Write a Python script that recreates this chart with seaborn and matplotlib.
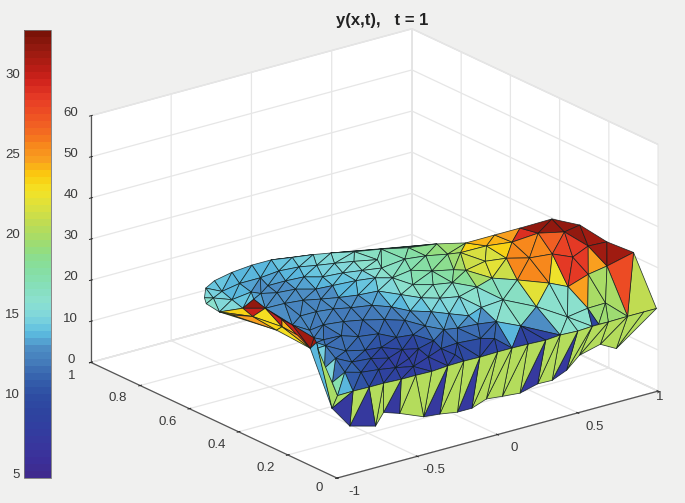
import numpy as np
import matplotlib
matplotlib.use('Agg')
import matplotlib.pyplot as plt
import matplotlib.tri as mtri
from matplotlib import cm, colors as mc
from mpl_toolkits.mplot3d import proj3d
from mpl_toolkits.mplot3d.art3d import Poly3DCollection
import seaborn as sns

node_x = [-0.63,-0.53,-0.43,-0.29,-0.15,-0.03,0.07,0.17,0.25,0.35,0.47,0.58,0.71,0.83,
 -0.49,-0.35,-0.22,-0.09,0.02,0.1,0.18,0.27,0.37,0.48,0.58,0.67,0.72,
 -0.59,-0.52,-0.37,-0.25,-0.14,-0.04,0.03,0.14,0.23,0.32,0.41,0.48,0.57,0.6,
 -0.34,-0.27,-0.17,-0.09,0,0.13,0.22,0.28,0.3,0.38,0.47,0.53,
 -0.33,-0.23,-0.15,-0.07,0.02,0.13,0.18,0.23,0.3,0.39,0.39,
 -0.37,-0.27,-0.18,-0.1,0,0.06,0.1,0.17,0.22,0.28,0.26,
 -0.45,-0.35,-0.24,-0.15,-0.06,0.02,0.04,0.08,0.15,
 -0.47,-0.36,-0.3,-0.19,-0.14,-0.05,-0.03,0.04,0.17,
 -0.47,-0.38,-0.28,-0.21,-0.14,-0.06,
 -0.54,-0.42,-0.34,-0.26,-0.17,-0.05,
 -0.59,-0.48,-0.39,-0.31,
 -0.68,-0.69,-0.56,-0.43,-0.45,-0.48,-0.5,-0.53,-0.52,-0.58,-0.66,
 -0.9,-0.8,-0.71,-0.6,-0.51,-0.41,-0.31,-0.21,-0.11,
 0,0.09,0.19,0.3,0.39,0.5,0.59,0.69,0.81,0.91,0.99,
 -0.92,-0.76,-0.71,-0.61,-0.46,-0.36,-0.25,-0.16,-0.07,0.03,0.14,0.25,0.34,0.43,0.51,0.64,0.74,
 0.63,
 0.79,0.81,0.75,0.83,0.69,0.61,0.73,0.66,0.79,0.86,0.72,0.69,0.74,0.58,0.54,0.39,0.33,0.18,0.65,0.70,0.70,0.78,0.97,0.82,0.78,0.80,0.85,0.81,0.85,0.76,
 -1,-0.63,-0.6,-0.92,-0.74,-0.83,-0.59,-0.66,-0.61,-0.56,-0.5,-0.57]
node_y = [0.78,0.84,0.87,0.89,0.9,0.9,0.88,0.86,0.84,0.81,0.78,0.74,0.71,0.67,
 0.8,0.82,0.82,0.83,0.82,0.8,0.78,0.76,0.73,0.69,0.67,0.64,0.62,
 0.77,0.74,0.76,0.77,0.77,0.76,0.73,0.72,0.7,0.68,0.62,0.58,0.55,0.52,
 0.74,0.72,0.71,0.68,0.67,0.66,0.64,0.61,0.54,0.51,0.49,0.43,
 0.65,0.64,0.62,0.6,0.58,0.57,0.51,0.46,0.43,0.41,0.32,
 0.56,0.56,0.55,0.53,0.51,0.47,0.42,0.38,0.34,0.3,0.25,
 0.47,0.48,0.47,0.45,0.42,0.39,0.32,0.27,0.26,
 0.4,0.4,0.37,0.36,0.32,0.31,0.24,0.19,0.18,
 0.31,0.29,0.29,0.25,0.23,0.19,
 0.24,0.24,0.22,0.19,0.17,0.14,
 0.17,0.17,0.16,0.14,
 0.74,0.68,0.67,0.71,0.65,0.52,0.42,0.39,0.36,0.28,0.19,
 0,0,0,0,0,0,0,0,0,
 0,0,0,0,0,0,0,0,0,0,0,
 0,0,0,0,0,0,0,0,0,0,0,0,0,0,0,0,0,
 0,
 0.56,0.54,0.43,0.45,0.50,0.42,0.44,0.35,0.35,0.34,0.34,0.24,0.26,0.22,0.33,0.16,0.22,0.13,0.14,0.17,0.09,0.07,0.08,0.09,0.14,0.25,0.22,0.16,0.11,0.19,
 0.02,0.35,0.34,0.05,0.22,0.13,0.61,0.65,0.5,0.51,0.55,0.44]
node_z = [18,17.6,17.5,17.5,17.5,17.5,17.6,17.8,17.9,18,18.2,18.5,18.9,19,
 17.5,17.4,17.4,17.4,17.5,17.6,17.8,17.9,18.1,18.2,18.5,18.8,19.2,
 17.8,17.5,17.2,17.2,17.2,17.4,17.5,17.6,17.8,18,18.2,18.4,18.6,19,
 17.1,17.1,17.2,17.2,17.4,17.5,17.8,18,18.1,18.1,18.2,18.2,
 17.1,17.1,17.1,17.2,17.4,17.5,17.8,17.9,17.9,17.9,17.8,
 17,17,17,17,17.1,17.2,17.2,17.4,17.5,17.5,17.1,
 16.9,16.9,16.8,16.8,16.8,16.6,17,17.1,17,
 16.8,16.6,16.6,16.4,16.1,16.1,16.4,16.5,16.5,
 16.6,16.4,16,15.9,15.9,16.2,
 16.6,16.2,16,15.9,15.9,16,
 16.6,16.1,15.9,15.9,
 18.2,18,17.8,17.5,17.2,17.1,17,17,17,16.8,16.8,
 20.1,20,20,19.8,19.8,19.7,20,20.1,20,
 20.1,20.1,20,19.8,20.1,19.9,20.1,20.1,20.2,20.2,20.2,
 11.8,10.1,12.9,11.6,9.2,8.8,8.1,8.1,9.4,9,8.6,9.7,9.6,11.1,13.9,15.2,13.1,
 20.2,
 21.8,24.8,26.8,28.8,20.8,19.8,22.8,20.8,30.8,33.8,25.8,22.8,28.8,18.8,17.8,17.8,17.8,17.8,17.8,23.8,20.8,21.8,31.8,29.8,26.8,33.8,35.8,32.8,34.8,29.8,
 16.4,17.8,17.8,17.8,17.8,17.8,17.8,17.8,17.8,17.8,17.8,17.8]
main_count = 129
main_val = [16,14.5,14,14,14,14,14.5,15,15.5,16,17,18,19.5,20,
 14,13.5,13.5,13.5,14,14.5,15,15.5,16.5,17,18,19,21,
 15,14,13,13,13,13.5,14,14.5,15,16,17,17.5,18.5,20,
 12.5,12.5,13,13,13.5,14,15,16,16.5,16.5,17,17,
 12.5,12.5,12.5,13,13.5,14,15,15.5,15.5,15.5,15,
 12.3,12.3,12.3,12.3,12.5,13,13,13.5,14,14,12.5,
 12,12,11.8,11.5,11.5,11.5,12,12.5,12,
 11.5,11.5,11.3,10.8,10.7,10.7,10.7,10.5,10,
 11,10.5,9,8,8,8.5,
 11,9,8,7.8,7.8,8.3,
 11,8.5,7.8,7.8,
 17,16,15,14,13,12.5,12,12,12,11.5,11,
 10,9.5,9,8,7.8,7.8,8,8.5,9]
chain_low = [0,109,110,111,112,113,114,115,116,117,118,119,120]
chain_right = [13,26,40,52,63,74,92,128]
chain_front = [120,121,122,123,124,125,126,127,128]

right_tri = [[26,13,158],[158,13,159],[159,160,158],[159,161,160],[26,158,162],[26,162,40],[40,162,163],[162,164,163],[158,164,162],[158,160,164],[164,165,163],
 [40,163,52],[160,161,166],[161,167,166],[160,166,168],[160,168,164],[164,168,165],[168,169,165],[168,170,169],[166,170,168],[165,169,171],[163,165,172],
 [163,172,52],[165,171,172],[52,172,63],[172,173,174],[172,171,173],[172,174,63],[63,174,74],[74,174,92],[174,175,92],[174,130,175],[174,173,130],
 [92,175,128],[175,129,128],[175,130,129],[173,131,130],[173,132,131],[173,133,132],[171,133,173],[171,176,133],[171,169,176],[169,177,176],[177,178,176],
 [170,177,169],[176,178,135],[176,135,134],[176,134,133],[178,157,135],[178,179,157],[179,136,157],[179,137,136],[180,139,137],[179,181,137],
 [182,181,179],[182,179,178],[177,182,178],[166,167,183],[167,184,183],[183,184,185],[184,186,185],[185,186,181],[186,180,181],[166,183,170],[183,187,170],
 [183,185,187],[187,185,182],[187,182,177],[170,187,177],[185,181,182],[181,180,137]]
right_val = [23.3,24.2,24,24.5,21.5,21.3,21.5,21.8,21.7,23.3,21,20,29,31.5,25.5,25.7,25.7,25.5,25.5,25.5,22,16.5,16.8,16.5,15.5,16,16.2,15.5,13,11,11,11,13.7,9,9,9,8.5,8.5,8.5,13,16,16,16,16,22.5,16,16,16,9,19.5,19.5,19.5,20.5,20,20,20,24.5,31.5,31.5,31.5,31,31,31,27,28,28.5,28.5,28.5,28.5,24.5,27.5]
wall_tri = [[120,188,140],[120,121,140],[121,140,141],[121,122,141],[122,141,142],[122,123,142],[123,142,143],[123,124,143],[124,143,144],[124,125,144],
 [125,126,144],[126,144,145],[126,127,145],[127,145,146],[127,128,146],[128,146,147],[128,129,147],[129,147,148],[129,130,148],[130,148,149],
 [130,131,149],[131,149,150],[131,132,150],[132,150,151],[132,133,151],[133,151,152],[133,134,152],[134,152,153],[134,135,153],[135,153,154],
 [135,136,154],[136,154,155],[136,137,155],[137,155,156],[137,138,156],[138,139,156]]
wall_val = [7,20.2,7,20.2,20.2,20.2,7,20.2,20.2,20.2,20.2,7,20.2,20.2,20.2,7,20.2,20.2,20.2,20.2,20.2,20.2,20.2,7,20.2,20.2,20.2,7,20.2,20.2,20.2,20.2,20.2,20.2,20.2,20.2]
sliver_tri = [[115,116,189],[116,117,190],[189,116,188],[116,190,188],[190,191,188],[190,117,192],[117,118,192],[118,193,192],[118,119,193],[119,191,193],[119,120,191],[191,120,188]]
sliver_val = [31,13.5,13.5,13.5,20,14.5,12,15,11.5,17,13.5,20]
fold_tri = [[111,112,113],[111,113,194],[110,111,194],[110,194,195],[194,196,197],[195,194,196],[194,113,197],[113,198,197],[198,199,197],[113,114,198],[114,115,189],[198,114,189],[197,199,189],[196,197,189],[195,196,110]]
fold_val = [31.5,29.8,23.3,24.5,23.5,24.5,23,30,24,31.5,31,29.8,24.5,23,23]

cmap_anchors = ['#3f2a8e','#3b309a','#37389e','#313fa0','#2e449f','#2e4ea3','#3560ac','#4278b8','#4d8cc4','#5cbce0','#7fd6dc','#8be0cf','#86dfb8','#86dea0','#8edd88','#a5dc69','#bfdc53','#dbe03e','#f3e326','#fbcb0e','#f99e1f','#f7841c','#f26522','#ee4f24','#e53a25','#d0231c','#b41c14','#951a10','#7a1207']
x_ticks = [-1,-0.5,0,0.5,1]
x_labels = ['-1','-0.5','0','0.5','1']
y_ticks = [0,0.2,0.4,0.6,0.8,1]
y_labels = ['0','0.2','0.4','0.6','0.8','1']
z_ticks = [0,10,20,30,40,50,60]
z_labels = ['0','10','20','30','40','50','60']
cb_ticks = [5,10,15,20,25,30]
title = 'y(x,t),   t = 1'

BG = '#f0f0ef'
sns.set_theme(style='white')
plt.rcParams['font.family'] = ['Liberation Sans', 'DejaVu Sans']

palette = sns.blend_palette(cmap_anchors, n_colors=64)
cmap = mc.ListedColormap(palette)
norm = mc.Normalize(vmin=4.7, vmax=32.7)

X = np.array(node_x, float); Y = np.array(node_y, float); Z = np.array(node_z, float)
W, H = 685, 503
fig = plt.figure(figsize=(W/100, H/100), dpi=100, facecolor=BG)
ax = fig.add_axes([0.1, 0.0, 0.8, 0.8*W/H], projection='3d', proj_type='ortho', computed_zorder=False, facecolor=BG)
ax.view_init(elev=20.9, azim=-127.2)
ax.set_box_aspect((403, 407, 264))
ax.set_xlim(-1, 1, view_margin=0)
ax.set_ylim(0, 1, view_margin=0)
ax.set_zlim(0, 60, view_margin=0)

def add_mesh(tris, vals, order):
    tris = np.asarray(tris)
    verts = np.stack([X[tris], Y[tris], Z[tris]], axis=-1)
    pc = Poly3DCollection(verts, facecolors=cmap(norm(np.asarray(vals))), edgecolors=(0.05, 0.1, 0.1, 0.85), linewidths=0.55, zorder=order)
    ax.add_collection3d(pc, autolim=False)

# main surface: Delaunay over the nodes as the view sees them, flat-coloured
U, V, _ = proj3d.proj_transform(X[:main_count], Y[:main_count], Z[:main_count], ax.get_proj())
tr = mtri.Triangulation(np.asarray(U), np.asarray(V))
chains = [set(chain_low), set(chain_right), set(chain_front)]
keep = np.array([not any(set(t) <= ch for ch in chains) for t in tr.triangles])
main_tris = tr.triangles[keep]
add_mesh(main_tris, np.asarray(main_val)[main_tris].mean(axis=1), 3)
add_mesh(right_tri, right_val, 3)
add_mesh(sliver_tri, sliver_val, 4)
add_mesh(fold_tri, fold_val, 5)
add_mesh(wall_tri, wall_val, 6)

ax.set_xticks(x_ticks)
ax.set_yticks(y_ticks)
ax.set_zticks(z_ticks)
ax.zaxis.set_ticks_position('upper')
for a in (ax.xaxis, ax.yaxis, ax.zaxis):
    a.set_major_formatter(matplotlib.ticker.NullFormatter())
    for t in a.get_major_ticks():
        t.label1.set_visible(False); t.label2.set_visible(False)
    a.set_pane_color((1, 1, 1, 1))
    a.pane.set_edgecolor('#dcdcdc')
    a.line.set_color('#555555')
    a.line.set_linewidth(0.9)
    a._axinfo['grid'].update(color='#e6e6e6', linewidth=0.9)
    a._axinfo['tick'].update(inward_factor=0.06, outward_factor=0.06, linewidth={True: 0.7, False: 0.7})

# place the projected box on the figure
targets = {(-1, 0, 0): (337, 25), (1, 0, 0): (658, 112), (-1, 1, 0): (91, 140), (-1, 0, 60): (337, 272)}
def px(p):
    ax.apply_aspect()
    ax.M = ax.get_proj()
    u, v, _ = proj3d.proj_transform(p[0], p[1], p[2], ax.M)
    return ax.transData.transform((u, v))
for _ in range(3):
    keys = list(targets)
    got = np.array([px(k) for k in keys]); want = np.array([targets[k] for k in keys], float)
    scale = np.linalg.norm(want - want.mean(0)) / np.linalg.norm(got - got.mean(0))
    pos = ax.get_position(original=True)
    size = pos.width * W * scale
    cx = pos.x0 * W + pos.width * W / 2; cy = pos.y0 * H + pos.height * H / 2
    ncx = want.mean(0)[0] + (cx - got.mean(0)[0]) * scale
    ncy = want.mean(0)[1] + (cy - got.mean(0)[1]) * scale
    ax.set_position([(ncx - size/2)/W, (ncy - size/2)/H, size/W, size/H])

# tick labels: plain 2D text at the projected position of each tick
ax.apply_aspect()
M = ax.get_proj()
LAB = dict(ha='center', va='center', fontsize=9.5, color='#3a3a3a', zorder=8, transform=ax.transData, clip_on=False)
def label3d(a, b, c, s):
    u, v, _ = proj3d.proj_transform(a, b, c, M)
    ax.text2D(u, v, s, **LAB)
for v, s, oy, oz in zip(x_ticks, x_labels, [-0.069]*4 + [-0.008], [-1.4]*4 + [-1.2]):
    label3d(v, oy, oz, s)
for v, s, ox, oz in zip(y_ticks, y_labels, [-1.112] + [-1.137]*4 + [-1.118], [-1.24] + [-1.7]*4 + [-2.1]):
    label3d(ox, v, oz, s)
for v, s in zip(z_ticks, z_labels):
    label3d(-1.125, 1, v + 2.0, s)

fig.text(382/W, 1 - 20/H, title, ha='center', va='center', fontsize=12, fontweight='bold', color='#222222')

cax = fig.add_axes([24/W, (H - 478)/H, 27/W, 448/H])
cb = fig.colorbar(cm.ScalarMappable(norm=norm, cmap=cmap), cax=cax)
cb.set_ticks(cb_ticks)
cax.yaxis.set_ticks_position('left')
cax.tick_params(axis='y', direction='in', length=3, width=0.6, labelsize=9.5, pad=3, colors='#3a3a3a')
cb.outline.set_edgecolor('#777777'); cb.outline.set_linewidth(0.6)

fig.savefig('out.png', dpi=100, facecolor=BG)
